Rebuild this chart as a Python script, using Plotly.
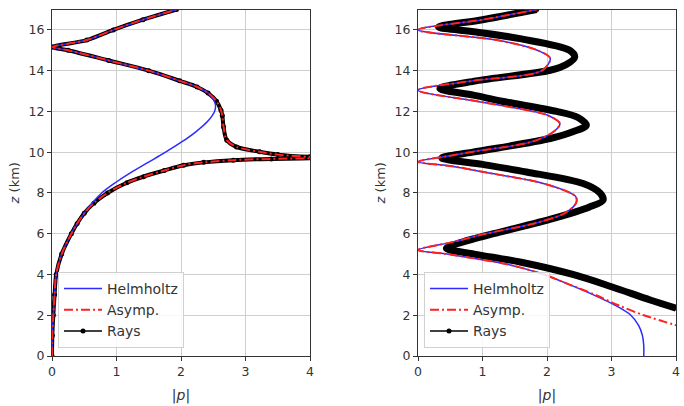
import plotly.graph_objects as go

# ---------------- data ----------------
# Left panel
zL_helm = [0, 1, 2, 3, 4, 5, 6, 6.5, 7, 7.5, 8, 8.5, 9, 9.5, 10, 10.5, 11, 11.5, 12, 12.3, 12.6, 12.9,
           13.2, 13.5, 14, 14.5, 15, 15.16, 15.5, 16, 16.5, 17]
pL_helm = [0, 0.005, 0.02, 0.04, 0.065, 0.15, 0.3, 0.39, 0.5, 0.62, 0.77, 0.98, 1.22, 1.49, 1.76, 2.01, 2.23,
           2.41, 2.52, 2.535, 2.5, 2.42, 2.25, 1.98, 1.5, 0.88, 0.25, 0.01, 0.54, 0.95, 1.41, 1.93]

zL_asym = [0, 1, 2, 3, 4, 5, 6, 6.5, 7, 7.5, 8, 8.5, 8.8, 9.1, 9.36, 9.5, 9.61, 9.67, 9.71, 9.725,
           9.74, 9.77, 9.88, 10.02, 10.26, 10.59, 11.24, 11.8, 12.06, 12.5, 12.9,
           13.2, 13.5, 14, 14.5, 15, 15.16, 15.5, 16, 16.5, 17]
pL_asym = [0, 0.005, 0.02, 0.04, 0.065, 0.15, 0.3, 0.39, 0.5, 0.65, 0.86, 1.16, 1.42, 1.74, 2.04, 2.35, 2.81, 3.4, 4.3, 5.0,
           4.4, 4.0, 3.5, 3.22, 2.86, 2.71, 2.66, 2.64, 2.62, 2.55, 2.42,
           2.25, 1.98, 1.5, 0.88, 0.25, 0.01, 0.54, 0.95, 1.41, 1.93]

zL_rays = zL_asym
pL_rays = pL_asym

# Right panel
zR_helm = [0, 0.5, 1, 1.5, 2, 2.5, 3, 3.5, 4, 4.5, 5, 5.2, 5.6, 6, 6.5, 7, 7.5, 7.8, 8, 8.5, 9,
           9.3, 9.53, 9.8, 10, 10.5, 11, 11.4, 11.8, 12, 12.5, 13.04, 13.5, 14, 14.6, 15, 15.5,
           16.0, 16.5, 17]
pR_helm = [3.5, 3.5, 3.48, 3.42, 3.3, 3.05, 2.72, 2.35, 1.95, 1.38, 0.45, 0.0, 0.55, 1.05, 1.8, 2.27,
           2.45, 2.45, 2.36, 1.9, 1.06, 0.55, 0.0, 0.45, 0.8, 1.75, 2.1, 2.2, 2.02, 1.79, 0.91, 0.0,
           0.85, 1.92, 2.05, 1.85, 1.22, 0.0, 1.0, 1.84]

zR_asym = [1.4, 2, 2.5, 3, 3.5, 4, 4.5, 5, 5.2, 5.6, 6, 6.5, 7, 7.5, 7.8, 8, 8.5, 9,
           9.3, 9.53, 9.8, 10, 10.5, 11, 11.4, 11.8, 12, 12.5, 13.04, 13.5, 14, 14.6, 15, 15.5,
           16.0, 16.5, 17]
pR_asym = [4.12, 3.5, 3.1, 2.75, 2.35, 1.95, 1.38, 0.45, 0.0, 0.55, 1.05, 1.8, 2.27,
           2.45, 2.45, 2.36, 1.9, 1.06, 0.55, 0.0, 0.45, 0.8, 1.75, 2.1, 2.2, 2.02, 1.79, 0.91, 0.0,
           0.85, 1.92, 2.05, 1.85, 1.22, 0.0, 1.0, 1.84]

zR_rays = [2.35, 2.75, 3.4, 4.0, 4.6, 5.0, 5.28, 5.6, 6, 6.75, 7.3, 7.65, 8, 8.46, 9.03, 9.4, 9.72,
           10, 10.67, 11.0, 11.32, 11.7, 12, 12.5, 12.8, 13.12, 13.5, 14.02, 14.3, 14.67, 15, 15.57,
           15.9, 16.14, 16.5, 17]
pR_rays = [4.0, 3.6, 3.0, 2.4, 1.6, 0.87, 0.44, 0.7, 1.17, 2.1, 2.65, 2.87, 2.82, 2.56, 1.68, 1.0, 0.37,
           0.85, 2.05, 2.4, 2.61, 2.48, 2.15, 1.3, 0.86, 0.34, 0.9, 2.05, 2.3, 2.43, 2.35, 1.58,
           0.9, 0.32, 1.0, 1.84]

x_ticks = [0, 1, 2, 3, 4]
y_ticks = [0, 2, 4, 6, 8, 10, 12, 14, 16]
names = ["Helmholtz", "Asymp.", "Rays"]

# ---------------- styling ----------------
BLUE = "#2b2bff"
RED = "#ff2020"
BLACK = "#000000"
FONT = "DejaVu Sans"
TXT = "#333333"
DASHDOT = "9px,3px,2px,3px"

fig = go.Figure()

def add_panel(xa, ya, leg, zh, ph, za, pa, zr, pr, ray_w):
    # rays (drawn first, underneath)
    fig.add_trace(go.Scatter(x=pr, y=zr, mode="lines+markers", xaxis=xa, yaxis=ya,
                             line=dict(color=BLACK, width=ray_w, shape="spline", smoothing=0.9),
                             marker=dict(color=BLACK, size=5), showlegend=False, hoverinfo="skip"))
    fig.add_trace(go.Scatter(x=ph, y=zh, mode="lines", xaxis=xa, yaxis=ya, name=names[0],
                             line=dict(color=BLUE, width=1.5, shape="spline", smoothing=0.9),
                             legend=leg, legendrank=1))
    fig.add_trace(go.Scatter(x=pa, y=za, mode="lines", xaxis=xa, yaxis=ya, name=names[1],
                             line=dict(color=RED, width=2, dash=DASHDOT, shape="spline", smoothing=0.9),
                             legend=leg, legendrank=2))
    # legend-only entry for rays
    fig.add_trace(go.Scatter(x=[None], y=[None], mode="lines+markers", xaxis=xa, yaxis=ya,
                             name=names[2], line=dict(color=BLACK, width=1.5),
                             marker=dict(color=BLACK, size=5), legend=leg, legendrank=3))

add_panel("x", "y", "legend", zL_helm, pL_helm, zL_asym, pL_asym, zL_rays, pL_rays, 4)
add_panel("x2", "y2", "legend2", zR_helm, pR_helm, zR_asym, pR_asym, zR_rays, pR_rays, 7)

W, H = 684, 406
xdomL = [52 / W, 310 / W]
xdomR = [418 / W, 676 / W]
ydom = [1 - 356 / H, 1 - 9.5 / H]

axis_common = dict(showline=True, linecolor=TXT, linewidth=1, mirror=True,
                   ticks="outside", ticklen=4, tickcolor=TXT, tickwidth=1,
                   showgrid=True, gridcolor="#cfcfcf", gridwidth=1, zeroline=False,
                   automargin=False,
                   tickfont=dict(family=FONT, size=12.5, color=TXT))

xcommon = dict(axis_common, range=[0, 4], tickvals=x_ticks, ticktext=[str(t) for t in x_ticks],
               title=dict(text="|<i>p</i>|", font=dict(family=FONT, size=14, color=TXT), standoff=12))
ycommon = dict(axis_common, range=[0, 17], tickvals=y_ticks, ticktext=[str(t) for t in y_ticks],
               title=dict(text="<i>z</i> (km)", font=dict(family=FONT, size=13, color=TXT), standoff=6))

legend_common = dict(bgcolor="rgba(255,255,255,0.85)", bordercolor="#d0d0d0", borderwidth=1,
                     font=dict(family=FONT, size=14, color=TXT), xanchor="left", yanchor="bottom",
                     tracegroupgap=0, itemwidth=38, traceorder="normal")

fig.update_layout(
    width=W, height=H,
    margin=dict(l=0, r=0, t=0, b=0, autoexpand=False),
    paper_bgcolor="white", plot_bgcolor="white",
    font=dict(family=FONT, size=12, color=TXT),
    xaxis=dict(xcommon, domain=xdomL, anchor="y"),
    yaxis=dict(ycommon, domain=ydom, anchor="x"),
    xaxis2=dict(xcommon, domain=xdomR, anchor="y2"),
    yaxis2=dict(ycommon, domain=ydom, anchor="x2"),
    legend=dict(legend_common, x=58 / W, y=1 - 348 / H),
    legend2=dict(legend_common, x=424 / W, y=1 - 348 / H),
)

fig.write_html("out.html")
